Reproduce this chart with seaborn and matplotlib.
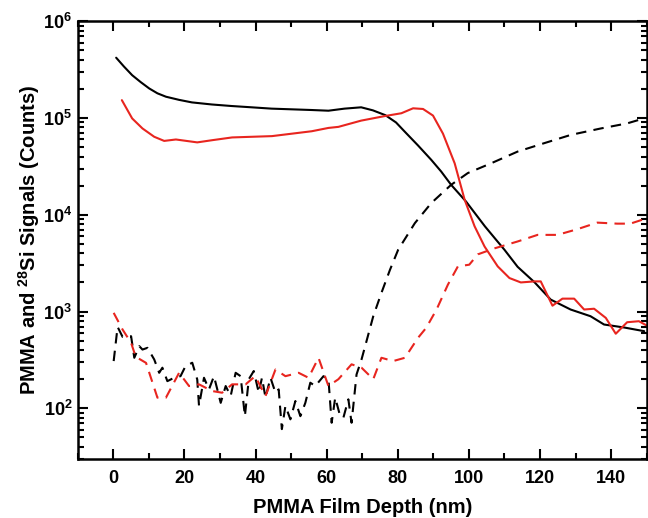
import numpy as np
import pandas as pd
import matplotlib
matplotlib.use("Agg")
import matplotlib.pyplot as plt
import matplotlib.ticker as mticker
import seaborn as sns

# PMMA signal, uncoated film (black solid)
pmma_a_x = [0.8, 3.0, 5.3, 7.7, 10.1, 12.4, 14.8, 18.5, 22.1, 27.7, 33.3, 38.9, 44.5, 50.1, 55.7,
            60.5, 65.0, 69.7, 73.0, 76.5, 79.5, 82.0, 85.7, 89.4, 92.2, 95.0, 99.2, 104.5, 107.5,
            110.0, 113.7, 118.5, 123.0, 128.6, 134.2, 138.0, 143.7, 149.3]
pmma_a_y = [4.2e5, 3.4e5, 2.77e5, 2.35e5, 2.02e5, 1.8e5, 1.66e5, 1.54e5, 1.45e5, 1.38e5, 1.33e5,
            1.29e5, 1.25e5, 1.23e5, 1.21e5, 1.19e5, 1.25e5, 1.29e5, 1.2e5, 1.07e5, 9.0e4, 7.2e4,
            5.2e4, 3.7e4, 2.8e4, 2.04e4, 1.37e4, 7.6e3, 5.6e3, 4.35e3, 2.9e3, 2.0e3, 1.33e3,
            1.05e3, 895, 735, 684, 627]

# PMMA signal, second film (red solid)
pmma_b_x = [2.4, 5.3, 8.2, 11.5, 14.3, 17.6, 23.6, 27.8, 33.4, 44.6, 55.8, 60.5, 63.3, 69.7,
            76.5, 81.0, 84.3, 87.1, 89.9, 92.7, 96.0, 98.8, 101.6, 104.4, 108.1, 111.4, 114.6,
            118.4, 120.2, 123.5, 126.3, 129.6, 132.4, 135.2, 138.5, 141.3, 144.5, 147.8, 150.0]
pmma_b_y = [1.53e5, 9.9e4, 7.8e4, 6.4e4, 5.8e4, 6.0e4, 5.6e4, 5.9e4, 6.3e4, 6.5e4, 7.3e4, 7.9e4,
            8.1e4, 9.4e4, 1.05e5, 1.12e5, 1.26e5, 1.24e5, 1.06e5, 6.9e4, 3.4e4, 1.43e4, 7.6e3,
            4.7e3, 2.93e3, 2.22e3, 2.0e3, 2.05e3, 2.05e3, 1.15e3, 1.36e3, 1.36e3, 1.05e3, 1.07e3,
            860, 590, 776, 795, 718]

# 28Si signal, uncoated film (black dashed)
si_a_x = [0.1, 1.2, 2.6, 5.0, 5.9, 7.3, 8.2, 9.6, 11.5, 12.9, 13.8, 15.2, 17.1, 18.9, 20.3, 22.2,
          23.6, 24.1, 25.5, 26.9, 28.3, 30.2, 31.6, 33.0, 34.4, 35.8, 37.0, 38.1, 39.5, 40.9,
          41.8, 42.8, 44.2, 45.6, 46.5, 47.4, 48.4, 49.8, 51.2, 52.6, 54.0, 55.4, 56.8, 59.1,
          60.5, 61.4, 62.4, 63.8, 64.7, 66.1, 67.0, 68.4, 69.8, 71.2, 73.1, 75.4, 77.8, 80.1,
          84.8, 89.4, 95.0, 99.7, 106.2, 113.7, 121.2, 128.7, 137.1, 144.5, 149.2]
si_a_y = [308, 695, 548, 556, 333, 439, 405, 422, 320, 233, 263, 191, 207, 215, 273, 296,
          199, 106, 207, 157, 215, 114, 170, 134, 233, 215, 83, 200, 243, 145,
          207, 129, 207, 145, 157, 61, 106, 77, 119, 83, 114, 184, 170, 215,
          200, 71, 129, 83, 80, 124, 71, 224, 320, 494, 895, 1.56e3, 2.7e3, 4.35e3,
          8.2e3, 1.32e4, 2.04e4, 2.7e4, 3.4e4, 4.5e4, 5.5e4, 6.7e4, 7.8e4, 8.8e4, 9.9e4]

# 28Si signal, second film (red dashed)
si_b_x = [0.1, 2.6, 5.0, 6.3, 9.2, 12.4, 14.8, 18.5, 21.3, 24.1, 27.8, 30.6, 33.4, 37.2, 39.9,
          42.8, 45.6, 48.4, 52.1, 54.9, 57.7, 60.5, 63.3, 67.0, 69.8, 73.1, 75.4, 78.7, 82.0,
          85.7, 88.0, 90.9, 94.1, 96.9, 100.1, 102.5, 107.2, 113.7, 119.3, 124.9, 130.5,
          136.1, 141.7, 145.4, 149.2]
si_b_y = [970, 652, 475, 341, 295, 129, 129, 233, 170, 177, 151, 145, 177, 177, 215,
          134, 252, 215, 233, 207, 333, 170, 200, 285, 263, 200, 333, 308, 333,
          536, 680, 1.05e3, 1.9e3, 2.93e3, 3.05e3, 3.9e3, 4.5e3, 5.3e3, 6.2e3, 6.2e3, 7.1e3,
          8.3e3, 8.1e3, 8.1e3, 9.0e3]

series = [
    ("PMMA A", pmma_a_x, pmma_a_y, "black", "-"),
    ("PMMA B", pmma_b_x, pmma_b_y, "#e8251f", "-"),
    ("Si A", si_a_x, si_a_y, "black", "--"),
    ("Si B", si_b_x, si_b_y, "#e8251f", "--"),
]

sns.set_style("ticks", {"axes.edgecolor": "black", "text.color": "black",
                        "axes.labelcolor": "black", "xtick.color": "black",
                        "ytick.color": "black"})
plt.rcParams["font.family"] = ["Liberation Sans", "DejaVu Sans"]
plt.rcParams["mathtext.fontset"] = "custom"
plt.rcParams["mathtext.rm"] = "Liberation Sans:bold"
plt.rcParams["mathtext.bf"] = "Liberation Sans:bold"
plt.rcParams["mathtext.it"] = "Liberation Sans:bold"

fig = plt.figure(figsize=(6.48, 5.18), dpi=100)
ax = fig.add_axes([0.120, 0.114, 0.878, 0.845])

for name, xs, ys, col, ls in series:
    df = pd.DataFrame({"depth": xs, "counts": ys})
    sns.lineplot(data=df, x="depth", y="counts", ax=ax, color=col, lw=1.5,
                 estimator=None, sort=False)
    if ls == "--":
        ax.lines[-1].set_dashes([5, 3.5])

ax.set_yscale("log")
ax.set_xlim(-10, 150)
ax.set_ylim(30, 1e6)

ax.xaxis.set_major_locator(mticker.MultipleLocator(20))
ax.xaxis.set_minor_locator(mticker.MultipleLocator(10))
ax.yaxis.set_major_locator(mticker.LogLocator(base=10))
ax.yaxis.set_minor_locator(mticker.LogLocator(base=10, subs=np.arange(2, 10)))
ax.yaxis.set_minor_formatter(mticker.NullFormatter())
ax.yaxis.set_major_formatter(mticker.FuncFormatter(
    lambda v, p: r"$\mathbf{10^{%d}}$" % int(round(np.log10(v)))))

ax.tick_params(which="both", direction="in", top=True, right=True, width=1.5, colors="black")
ax.tick_params(which="major", length=7, labelsize=13, pad=4)
ax.tick_params(which="minor", length=4)
ax.tick_params(axis="x", which="major", pad=8)
for lab in ax.get_xticklabels():
    lab.set_fontweight("bold")
for sp in ax.spines.values():
    sp.set_linewidth(1.8)
    sp.set_color("black")

ax.set_xlabel("PMMA Film Depth (nm)", fontsize=14.5, fontweight="bold", labelpad=8, color="black")
ax.set_ylabel(r"PMMA and $^{28}$Si Signals (Counts)", fontsize=14.5, fontweight="bold",
              labelpad=1, color="black")

fig.savefig("out.png", dpi=100)
